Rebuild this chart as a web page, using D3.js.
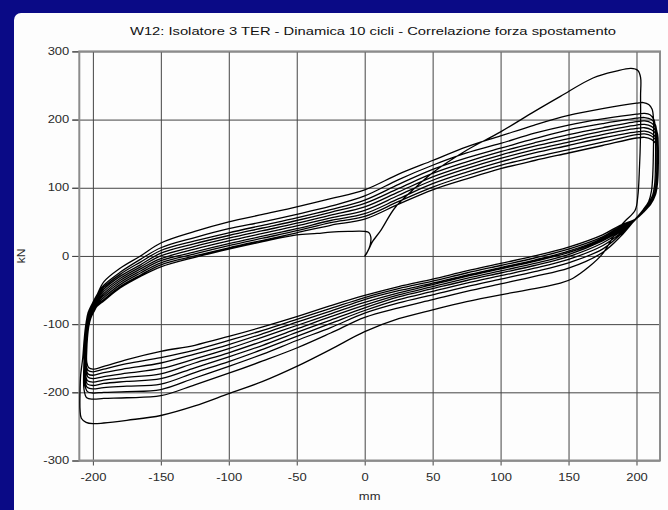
<!DOCTYPE html>
<html>
<head>
<meta charset="utf-8">
<style>
  body { margin: 0; background: #0a0a86; }
  svg { display: block; }
  .grid line { stroke: #111; stroke-width: 1; }
  .grid .domain { display: none; }
  .axis .domain { display: none; }
  .axis line { stroke: #444; }
  .axis text { font-family: 'Liberation Sans', Arial, sans-serif; font-size: 10px; fill: #2a2a2a; }
  .title { font-family: 'Liberation Sans', Arial, sans-serif; font-size: 11px; fill: #111; }
  .unit { font-family: 'Liberation Sans', Arial, sans-serif; font-size: 10px; fill: #2a2a2a; }
</style>
</head>
<body>
<svg width="668" height="510"></svg>
<script src="https://d3js.org/d3.v7.min.js"></script>
<script>
    // axis ticks
    const xTicks = [-200, -150, -100, -50, 0, 50, 100, 150, 200];
    const yTicks = [-300, -200, -100, 0, 100, 200, 300];

    // first loading from rest, then first full cycle (mm, kN)
    const ramp = [[0,-1],[2,6],[4,14],[5.4,20],[12,38],[22,70],[35,96],[50,122],[75,155],[100,182],[125,212],[144,234],[168,261],[185,271],[196,275],[201,272],[203,262]];
    const down1 = [[203,235],[203,180],[202,120],[201,88],[199,67],[192,52],[188,43],[182,25],[175,3],[165,-16],[153,-33],[144,-40],[125,-48],[100,-57],[75,-67],[50,-79],[25,-92],[0,-111],[-25,-137],[-50,-162],[-75,-184],[-100,-202],[-125,-220],[-150,-234],[-175,-241],[-192,-245],[-200,-246],[-205,-244],[-208.5,-238]];
    const up1 = [[-209.5,-225],[-209.5,-200],[-209,-175],[-207.5,-150],[-206.5,-125],[-205.5,-105],[-204,-88],[-202,-77],[-198,-62],[-192,-38],[-180,-18],[-165,0],[-150,19],[-125,36],[-100,50],[-75,61],[-50,72],[-25,84],[0,97],[25,120],[50,140],[75,160],[100,176],[125,192],[150,206],[175,216],[200,224],[205,225]];

    // lower branches, cycles 2..10 (kN at lowX)
    const lowX = [200, 188, 175, 150, 125, 100, 75, 50, 25, 0, -25, -50, -75, -100, -125, -150, -175, -192, -200];
    const lowerF = [
        [56, 28, 5, -18, -30, -41, -52, -64, -76, -90, -113, -135, -154, -172, -189, -205, -208, -209, -210],
        [55, 31, 10, -10, -23, -34, -45, -57, -69, -84, -105, -124, -144, -162, -179, -196, -199, -200, -201],
        [55, 33, 15, -5, -18, -29, -40, -52, -64, -80, -99, -118, -137, -155, -171, -188, -191, -193, -195],
        [55, 35, 19, -1, -14, -25, -36, -48, -60, -76, -94, -112, -131, -148, -164, -180, -184, -187, -190],
        [55, 37, 22, 2, -11, -22, -33, -45, -57, -72, -89, -107, -125, -142, -157, -173, -178, -182, -185],
        [55, 39, 24, 5, -8, -19, -30, -42, -54, -68, -85, -102, -119, -136, -151, -165, -172, -177, -180],
        [55, 41, 26, 7, -6, -17, -28, -40, -51, -64, -81, -97, -114, -130, -144, -157, -165, -171, -175],
        [55, 43, 28, 10, -3, -14, -25, -37, -48, -61, -77, -93, -109, -124, -138, -149, -158, -166, -170],
        [55, 45, 31, 13, 0, -11, -22, -34, -45, -58, -73, -89, -104, -118, -131, -140, -152, -162, -166]
    ];

    // upper branches, cycles 2..9 (kN at upX)
    const upX = [-192, -180, -165, -150, -125, -100, -75, -50, -25, 0, 25, 50, 75, 100, 125, 150, 175, 200];
    const upperF = [
        [-43, -24, -5, 12, 27, 40, 50, 61, 73, 88, 112, 133, 151, 165, 180, 192, 201, 208],
        [-46, -27, -9, 8, 22, 34, 45, 56, 68, 82, 105, 127, 144, 158, 172, 185, 194, 202],
        [-49, -30, -13, 4, 18, 30, 41, 52, 64, 77, 99, 121, 138, 153, 166, 178, 188, 197],
        [-52, -33, -16, 0, 14, 26, 37, 48, 60, 72, 94, 116, 133, 148, 161, 172, 183, 192],
        [-55, -36, -19, -4, 10, 22, 33, 44, 56, 67, 89, 111, 128, 143, 156, 167, 178, 187],
        [-58, -39, -22, -7, 6, 18, 29, 40, 52, 62, 84, 106, 123, 138, 151, 162, 173, 182],
        [-61, -42, -25, -10, 3, 15, 26, 37, 49, 58, 80, 101, 118, 133, 145, 156, 167, 178],
        [-64, -45, -28, -13, 0, 12, 23, 34, 45, 54, 76, 97, 113, 128, 140, 151, 162, 173]
    ];

    // right-hand reversals before lower branches 2..10
    const rightTurns = [
        [[209,222],[211.5,215],[212.5,200],[212.5,160],[212,120],[211,95],[209,80],[205,68]],
        [[206,209],[210,207],[213,199],[214,178],[214,140],[213.5,108],[212,90],[208.5,76],[204,64]],
        [[206,203],[211,200],[214,192],[215,172],[215,140],[214.5,108],[213,90],[209.5,76],[205,64]],
        [[206,198],[211,195],[214.5,187],[215.5,167],[215.5,140],[215,108],[213.5,90],[210,76],[205,64]],
        [[206,193],[211,190],[215,182],[216,162],[216,140],[215.5,108],[214,90],[210.5,76],[205,64]],
        [[206,188],[211,185],[215,177],[216,158],[216,135],[215.5,108],[214,90],[210.5,76],[205,64]],
        [[206,183],[211,180],[215,172],[216,154],[216,132],[215.5,108],[214,90],[210.5,76],[205,64]],
        [[206,179],[211,176],[215,168],[216,150],[216,130],[215.5,108],[214,90],[210.5,76],[205,64]],
        [[206,174],[211,171],[215,163],[216,146],[216,128],[215.5,108],[214,90],[210.5,76],[205,64]]
    ];

    // left-hand reversals before upper branches 2..10
    const leftTurns = [
        [[-204.5,-208],[-206.5,-196],[-206.5,-150],[-206,-120],[-205,-98],[-203.5,-83],[-200.5,-70],[-197,-57]],
        [[-204,-199],[-206,-188],[-206,-150],[-205.5,-120],[-204.5,-98],[-203,-84],[-200,-72],[-197,-60]],
        [[-204,-193],[-206,-182],[-206,-150],[-205.5,-120],[-204.5,-99],[-203,-85],[-200,-74],[-197,-62]],
        [[-204,-188],[-205.5,-178],[-205.5,-150],[-205,-120],[-204,-99],[-202.5,-86],[-200,-75],[-197,-64]],
        [[-204,-183],[-205.5,-173],[-205.5,-148],[-205,-120],[-204,-100],[-202.5,-87],[-200,-76],[-197,-66]],
        [[-203.5,-178],[-205,-168],[-205,-145],[-204.5,-120],[-203.5,-100],[-202,-88],[-199.5,-78],[-197,-68]],
        [[-203.5,-173],[-205,-164],[-205,-142],[-204.5,-120],[-203.5,-101],[-202,-89],[-199.5,-79],[-197,-70]],
        [[-203.5,-168],[-205,-160],[-205,-140],[-204.5,-120],[-203.5,-102],[-202,-90],[-199.5,-80],[-197,-72]],
        [[-203,-164],[-204.5,-156],[-204.5,-138],[-204,-120],[-203,-103],[-201.5,-91],[-199,-81],[-197,-74]]
    ];

    // last half cycle, stopping back at zero
    const lastUp = [[-192,-66],[-180,-47],[-165,-30],[-150,-16],[-125,-2],[-100,10],[-75,21],[-50,31],[-35,33],[-25,35],[-12,36],[0,36],[3,34.5],[4.5,28],[4,16],[2,6],[0,0]];

    let svg = d3.select("svg");
    let W = 668, H = 510;

    let plot = { left: 79.3, right: 660, top: 51.4, bottom: 460.5 };
    let plotW = plot.right - plot.left, plotH = plot.bottom - plot.top;

    let x = d3.scaleLinear().domain([-210, 217.3]).range([plot.left, plot.right]);
    let y = d3.scaleLinear().domain([-300, 300]).range([plot.bottom, plot.top]);

    // background
    svg.append("rect").attr("width", W).attr("height", H).attr("fill", "#0a0a86");
    svg.append("rect")
        .attr("x", 14).attr("y", 13).attr("width", W).attr("height", H)
        .attr("rx", 7)
        .attr("fill", "#fdfdfd");

    // title
    svg.append("text")
        .attr("class", "title")
        .attr("x", 373).attr("y", 35)
        .attr("text-anchor", "middle")
        .attr("textLength", 486)
        .attr("lengthAdjust", "spacingAndGlyphs")
        .text("W12: Isolatore 3 TER - Dinamica 10 cicli - Correlazione forza spostamento");

    let plainFmt = d => String(d);  // plain hyphen for negatives, like the original

    // gridlines, with the short outer ticks + labels
    svg.append("g")
        .attr("class", "grid axis")
        .attr("transform", `translate(0,${plot.bottom + 5})`)
        .call(d3.axisBottom(x).tickValues(xTicks).tickFormat(plainFmt)
            .tickSizeInner(-(plotH + 5)).tickSizeOuter(0).tickPadding(8))
        .selectAll("text")
        .attr("transform", "scale(1.3,1)");

    let yAxis = svg.append("g")
        .attr("class", "grid axis")
        .attr("transform", `translate(${plot.left - 7},0)`)
        .call(d3.axisLeft(y).tickValues(yTicks).tickFormat(plainFmt)
            .tickSizeInner(-(plotW + 7)).tickSizeOuter(0).tickPadding(3));
    yAxis.selectAll("text")
        .attr("x", -3 / 1.3)
        .attr("transform", "scale(1.3,1)");
    // outer tick marks a bit lighter than the grid
    yAxis.selectAll(".tick").append("line")
        .attr("x1", 0).attr("x2", 7)
        .attr("stroke", "#555");

    // frame
    svg.append("rect")
        .attr("x", plot.left).attr("y", plot.top)
        .attr("width", plotW).attr("height", plotH)
        .attr("fill", "none")
        .attr("stroke", "#8c8c8c")
        .attr("stroke-width", 2);

    // axis titles
    svg.append("text")
        .attr("class", "unit")
        .attr("text-anchor", "middle")
        .attr("transform", `translate(${(plot.left + plot.right) / 2},500) scale(1.3,1)`)
        .text("mm");

    svg.append("text")
        .attr("class", "unit")
        .attr("text-anchor", "middle")
        .attr("transform", `translate(25,${y(0)}) rotate(-90) scale(1.2,1.1)`)
        .text("kN");

    // assemble the whole recorded trace
    let trace = [].concat(ramp, down1, up1);
    for (let i = 0; i < lowerF.length; i++) {
        trace = trace.concat(rightTurns[i]);
        trace = trace.concat(lowX.map((d, j) => [d, lowerF[i][j]]));
        trace = trace.concat(leftTurns[i]);
        if (i < upperF.length) {
            trace = trace.concat(upX.map((d, j) => [d, upperF[i][j]]));
        } else {
            trace = trace.concat(lastUp);
        }
    }

    let line = d3.line()
        .x(d => x(d[0]))
        .y(d => y(d[1]))
        .curve(d3.curveCatmullRom.alpha(0.5));

    svg.append("path")
        .datum(trace)
        .attr("d", line)
        .attr("fill", "none")
        .attr("stroke", "#000")
        .attr("stroke-width", 1.3)
        .attr("stroke-linejoin", "round");
</script>
</body>
</html>
